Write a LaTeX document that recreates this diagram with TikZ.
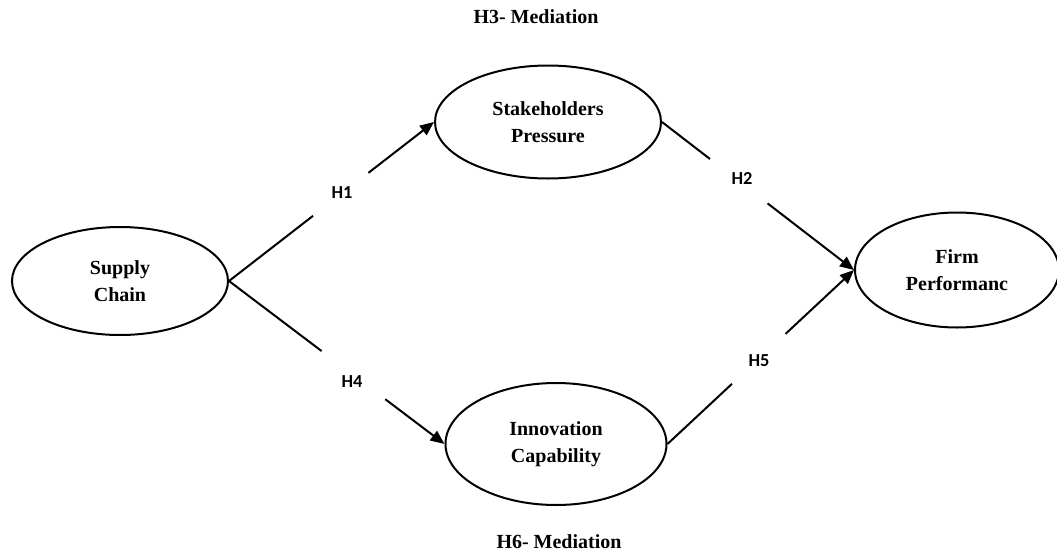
\documentclass[tikz,border=0pt]{standalone}
\usepackage{fontspec}
\setmainfont{Liberation Serif}
\newfontfamily\hypfont{Carlito}
\usepackage{tikz}
\usetikzlibrary{shapes.geometric,arrows.meta,calc}

\tikzset{
  construct/.style={draw,ellipse,line width=1.2pt,inner sep=0pt,align=center,
    font=\fontsize{12}{16}\selectfont\bfseries},
  link/.style={line width=1.2pt},
  linkarrow/.style={line width=1.2pt,-{Triangle[length=8.4pt,width=7pt]}},
  hyp/.style={font=\hypfont\fontsize{11}{13}\selectfont\bfseries},
  medlabel/.style={font=\fontsize{12}{14}\selectfont\bfseries}
}

\begin{document}
\begin{tikzpicture}[x=0.6pt,y=-0.6pt]
    \useasboundingbox (0,0) rectangle (1057,551);
    \begin{scope}
      \clip (0,0) rectangle (1057,551);
      \node[construct,minimum width=129.6pt,minimum height=64.8pt] (sc) at (120,281) {Supply\\Chain};
      \node[construct,minimum width=135.6pt,minimum height=67.8pt] (sp) at (548,122) {Stakeholders\\Pressure};
      \node[construct,minimum width=132.6pt,minimum height=73.2pt] (ic) at (556,444) {Innovation\\Capability};
      \node[construct,minimum width=122.4pt,minimum height=69pt] (fp) at (957,270) {Firm\\Performanc};
    \end{scope}

    % H1 and H4: supply chain to the mediators
    \draw[link] (sc.east) -- ($(sc.east)!0.41!(sp.west)$);
    \draw[linkarrow] ($(sc.east)!0.68!(sp.west)$) -- (sp.west);
    \draw[link] (sc.east) -- ($(sc.east)!0.43!(ic.west)$);
    \draw[linkarrow] ($(sc.east)!0.725!(ic.west)$) -- (ic.west);

    % H2 and H5: mediators to firm performance
    \draw[link] (sp.east) -- ($(sp.east)!0.25!(fp.west)$);
    \draw[linkarrow] ($(sp.east)!0.55!(fp.west)$) -- (fp.west);
    \draw[link] (ic.east) -- ($(ic.east)!0.346!(fp.west)$);
    \draw[linkarrow] ($(ic.east)!0.633!(fp.west)$) -- (fp.west);

    \node[hyp] (h1) at (342,193) {H1};
    \node[hyp] (h2) at (742,178) {H2};
    \node[hyp] (h4) at (352,382) {H4};
    \node[hyp] (h5) at (759,361) {H5};

    \node[medlabel] (h3) at (536,17) {H3- Mediation};
    \node[medlabel] (h6) at (559,542) {H6- Mediation};
  \end{tikzpicture}
\end{document}
